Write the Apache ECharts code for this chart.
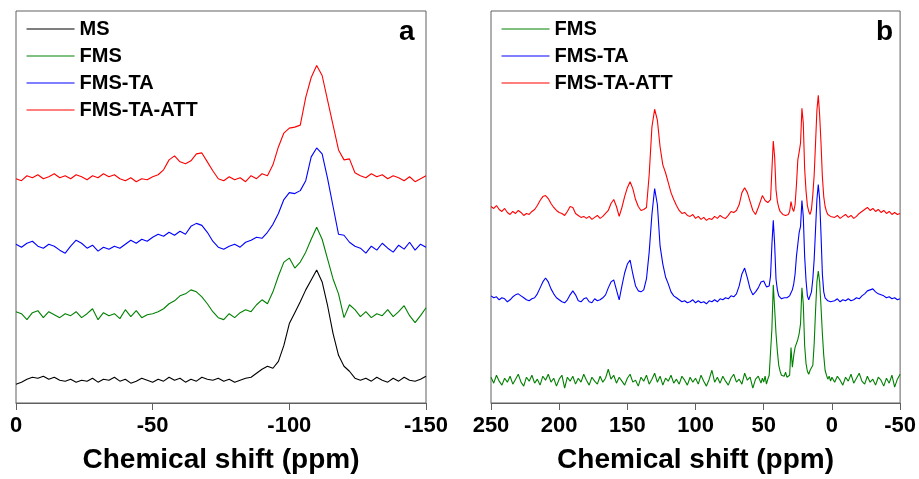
<!DOCTYPE html>
<html>
<head>
<meta charset="utf-8">
<script src="https://cdn.jsdelivr.net/npm/echarts@6/dist/echarts.min.js"></script>
<style>html,body{margin:0;padding:0;background:#fff}#c{width:919px;height:479px}</style>
</head>
<body>
<div id="c"></div>
<script>
// ---- Panel a : x sampling (ppm) and intensities (arbitrary, stacked offsets) ----
function ppmGrid(a, b, step) { const r = []; for (let v = a; step < 0 ? v >= b : v <= b; v += step) r.push(v); return r; }
const xLeft = ppmGrid(0, -150, -2);
const namesLeft = ['MS', 'FMS', 'FMS-TA', 'FMS-TA-ATT'];
const msA = [19,21,24,26,25,27,24,26,23,22, 24,21,23,22,25,21,24,23,26,22, 24,20,22,25,23,21,24,22,26,23,
  25,21,24,22,26,24,23,25,22,24, 21,23,25,26,30,34,37,35,42,58, 80,91,102,114,124,134,122,98,70,48,
  37,32,25,23,25,22,26,23,21,25, 22,26,23,22,24,27];
const fmsA = [92,90,84,91,93,86,92,89,86,90, 88,92,86,90,95,84,91,88,90,85, 94,87,93,86,89,90,92,95,100,103,
  108,110,114,112,107,100,92,86,84,90, 86,91,94,92,99,104,100,112,128,142, 146,136,142,152,165,177,165,145,125,110,
  86,99,94,87,92,86,90,88,94,87, 92,98,88,81,88,96];
const fmsTaA = [160,157,161,163,158,156,160,158,154,151, 158,164,161,156,159,153,157,155,158,156, 160,164,161,165,163,167,170,168,172,169,
  173,170,178,181,179,172,163,157,155,158, 160,157,162,164,167,166,172,180,191,205, 212,211,214,224,248,257,251,226,198,170,
  169,162,158,156,151,158,154,161,156,152, 159,155,162,154,160,157];
const fmsTaAttA = [226,224,229,227,230,226,228,231,227,229, 226,230,228,225,229,227,231,228,230,226, 224,227,223,226,225,228,230,235,245,249,
  243,241,244,251,252,243,234,226,224,228, 225,227,223,229,226,231,229,240,258,272, 277,278,280,308,328,340,330,305,280,255,
  245,246,232,229,227,231,228,230,226,229, 227,224,228,223,226,229];

// ---- Panel b : x sampling (ppm): 250..52 step 2, 51..0 step 1, -2..-50 step 2 ----
const xRight = ppmGrid(250, 52, -2).concat(ppmGrid(51, 0, -1), ppmGrid(-2, -50, -2));
const namesRight = ['FMS', 'FMS-TA', 'FMS-TA-ATT'];
const fmsB = [
  26,20,28,22,18,25,21,27,19,24, 29,21,17,26,22,28,20,24,18,27, 23,29,21,25,17,24,28,15,26,22,
  27,19,25,21,29,23,18,26,22,19, 27,21,25,34,24,28,20,26,22,18, 25,29,21,23,17,26,22,28,19,24,
  30,21,27,18,25,22,28,20,24,19, 27,23,18,26,21,25,19,28,22,17, 24,33,21,26,20,27,22,18,25,29,
  21,24,19,30,23,26,15,24,27,20,
  25,21,27,19,24,28,30,75,119,95, 70,52,38,32,28,30,27,31,26,24, 28,56,36,48,56,58,64,70,80,116,
  100,58,40,32,29,33,33,38,60,93, 122,133,122,97,70,48,33,28,24,27, 22,26,
  21,27,23,18,26,22,29,20,25,30,22,19,27,21,24,18,26,23,17,25,20,28,16,24,29];
const fmsTaB = [
  108,106,107,104,106,105,102,104,107,109, 110,108,106,104,103,105,106,110,116,122, 126,122,115,110,106,104,102,101,104,109,
  113,109,103,102,105,106,102,101,105,103, 104,106,109,116,122,124,114,104,118,131, 140,144,130,118,113,112,114,125,152,190,
  216,200,158,140,127,120,112,108,106,104, 102,103,101,102,104,101,103,101,102,100, 103,102,104,102,105,104,106,105,108,107,
  110,118,130,136,126,115,109,112,116,122,
  124,123,120,117,116,118,128,160,184,160, 125,114,108,106,105,104,106,105,106,106, 108,111,114,120,130,148,160,172,178,204,
  188,148,124,108,104,106,112,125,145,175, 205,220,205,170,130,112,106,104,103,105, 102,104,
  103,105,102,104,103,105,103,104,106,105,108,110,113,114,115,112,110,109,108,106,107,105,106,104,105];
const fmsTaAttB = [
  198,196,199,195,193,196,192,190,193,191, 194,192,189,191,190,193,195,199,204,208, 209,206,201,197,194,192,191,189,193,198,
  197,191,189,187,188,186,188,185,187,189, 186,188,191,194,201,205,198,188,197,208, 217,223,216,205,198,194,195,197,230,278,
  296,285,258,240,232,222,212,205,199,194, 191,192,189,188,190,186,188,185,187,184, 186,185,188,186,189,187,186,189,193,192,
  194,200,212,217,212,203,194,190,197,205,
  209,207,204,203,202,200,205,235,264,248, 215,203,197,193,191,190,192,189,191,190, 193,203,196,193,200,220,245,253,262,297,
  282,236,214,199,193,190,195,210,230,262, 295,310,290,262,228,208,198,193,190,192, 188,190,
  187,189,186,188,190,187,189,186,188,191,193,195,197,194,196,193,195,192,194,191,193,190,192,190,191];

const tickLeft = [0, -50, -100, -150];
const tickRight = [250, 200, 150, 100, 50, 0, -50];
const colors = {'MS': '#000000', 'FMS': '#008000', 'FMS-TA': '#0000FF', 'FMS-TA-ATT': '#FF0000'};

const FONT = "'Liberation Sans', Arial, sans-serif";
const frame = '#606060';
function pairs(xs, ys) { return xs.map((x, i) => [x, ys[i]]); }
function mkSeries(name, xs, ys, gi) {
  return { name: name, type: 'line', xAxisIndex: gi, yAxisIndex: gi, data: pairs(xs, ys),
    symbol: 'none', showSymbol: false, smooth: false, animation: false,
    lineStyle: { color: colors[name], width: 1.1 }, itemStyle: { color: colors[name] } };
}
function mkX(gi, mn, mx) {
  return { gridIndex: gi, type: 'value', min: mn, max: mx, interval: 50, inverse: true,
    name: 'Chemical shift (ppm)', nameLocation: 'middle', nameGap: 43,
    nameTextStyle: { fontSize: 28, fontWeight: 'bold', color: '#000', fontFamily: FONT },
    axisLine: { show: true, lineStyle: { color: frame, width: 1 } },
    axisTick: { show: true, inside: false, length: 7, lineStyle: { color: frame, width: 1 } },
    axisLabel: { fontSize: 22, fontWeight: 'bold', color: '#000', margin: 12, fontFamily: FONT,
      showMinLabel: true, showMaxLabel: true },
    splitLine: { show: false } };
}
function mkLegend(names, left) {
  return { data: names, orient: 'vertical', left: left, top: 19, itemWidth: 48, itemHeight: 14, itemGap: 7,
    selectedMode: false, padding: 0,
    itemStyle: { opacity: 0 },
    lineStyle: { width: 1.1 },
    textStyle: { fontSize: 20, fontWeight: 'bold', color: '#000', fontFamily: FONT } };
}

const chart = echarts.init(document.getElementById('c'), null, { renderer: 'canvas' });
chart.setOption({
  animation: false,
  backgroundColor: '#fff',
  grid: [
    { left: 16, width: 410, top: 11, height: 395, show: true, borderColor: frame, borderWidth: 1, backgroundColor: 'transparent' },
    { left: 491, width: 410, top: 11, height: 395, show: true, borderColor: frame, borderWidth: 1, backgroundColor: 'transparent' }
  ],
  xAxis: [ mkX(0, tickLeft[3], tickLeft[0]), mkX(1, tickRight[6], tickRight[0]) ],
  yAxis: [
    { gridIndex: 0, type: 'value', min: 0, max: 395, show: false },
    { gridIndex: 1, type: 'value', min: 0, max: 395, show: false }
  ],
  legend: [ mkLegend(namesLeft, 26), mkLegend(namesRight, 501) ],
  graphic: [
    { type: 'text', left: 399, top: 18, style: { text: 'a', font: "bold 28px " + FONT, fill: '#000' } },
    { type: 'text', left: 876, top: 18, style: { text: 'b', font: "bold 28px " + FONT, fill: '#000' } }
  ],
  series: [
    mkSeries('MS', xLeft, msA, 0),
    mkSeries('FMS', xLeft, fmsA, 0),
    mkSeries('FMS-TA', xLeft, fmsTaA, 0),
    mkSeries('FMS-TA-ATT', xLeft, fmsTaAttA, 0),
    mkSeries('FMS', xRight, fmsB, 1),
    mkSeries('FMS-TA', xRight, fmsTaB, 1),
    mkSeries('FMS-TA-ATT', xRight, fmsTaAttB, 1)
  ]
});
</script>
</body>
</html>
